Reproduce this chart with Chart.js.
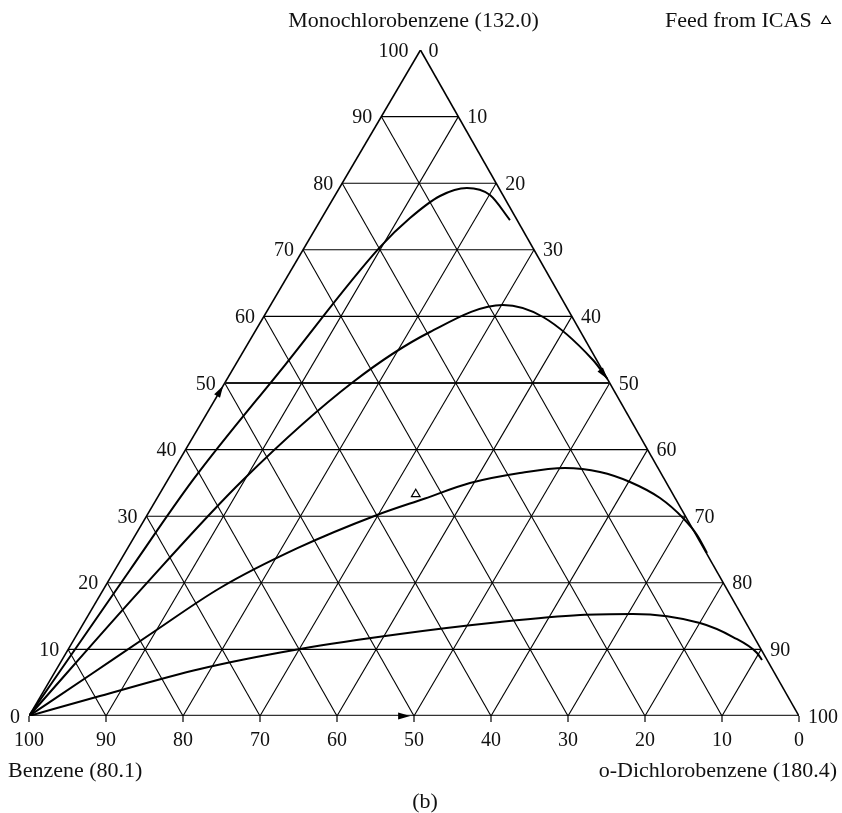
<!DOCTYPE html>
<html><head><meta charset="utf-8">
<script src="https://cdn.jsdelivr.net/npm/chart.js@4.4.0/dist/chart.umd.min.js"></script>
<style>html,body{margin:0;padding:0;background:#fff;} #wrap{width:842px;height:813px;position:relative;}</style>
</head><body><div id="wrap"><canvas id="c" width="842" height="813"></canvas></div>
<script>
// ---- tick labels (percent) ----
const tickValues = [0,10,20,30,40,50,60,70,80,90,100];
const gridFractions = [0.1,0.2,0.3,0.4,0.5,0.6,0.7,0.8,0.9];
// horizontal position of the Monochlorobenzene apex, in units of the base width
const apexX = 0.5084;

// ---- residue curves: mole fractions of MCB (m) and o-DCB (d) along each curve ----
const curve1Mcb = [0, 0.2192, 0.3544, 0.527,  0.704,  0.7477, 0.7808, 0.7928, 0.7823, 0.7447];
const curve1Dcb = [0, 0.0197, 0.0328, 0.0645, 0.0979, 0.1147, 0.1368, 0.1657, 0.2009, 0.2460];

const curve2Mcb = [0, 0.1883, 0.3544, 0.5015, 0.5766, 0.6171, 0.5991, 0.5345, 0.506];
const curve2Dcb = [0, 0.0484, 0.0977, 0.1659, 0.2276, 0.3018, 0.3630, 0.4607, 0.494];

const curve3Mcb = [0, 0.0616, 0.1242, 0.1922, 0.2523, 0.3018, 0.3266, 0.3498, 0.3649, 0.3724, 0.3664, 0.3514, 0.3273, 0.2973, 0.2718, 0.2447];
const curve3Dcb = [0, 0.0479, 0.0962, 0.1504, 0.2210, 0.2985, 0.3482, 0.3948, 0.4521, 0.5068, 0.5553, 0.6019, 0.6531, 0.6982, 0.7294, 0.7561];

const curve4Mcb = [0, 0.0300, 0.0706, 0.1006, 0.1231, 0.1411, 0.1517, 0.1532, 0.1396, 0.1186, 0.0946, 0.0841];
const curve4Dcb = [0, 0.0769, 0.1862, 0.3008, 0.4192, 0.5399, 0.6385, 0.7065, 0.8004, 0.8540, 0.8974, 0.9092];

const feedMcb = [0.333];
const feedDcb = [0.333];

// arrows: [mcb, dcb] of tip, [mcb, dcb] of a point behind it
const arrowTips  = [[0.496, 0.0], [0.0, 0.495], [0.506, 0.494]];
const arrowTails = [[0.44, 0.0],  [0.0, 0.44],  [0.53, 0.466]];

const labelTop = 'Monochlorobenzene (132.0)';
const labelLeft = 'Benzene (80.1)';
const labelRight = 'o-Dichlorobenzene (180.4)';
const labelFeed = 'Feed from ICAS';
const labelPanel = '(b)';

function toXY(m, d) { return { x: d + m * apexX, y: m }; }
function curve(ms, ds) { return ms.map((m, i) => toXY(m, ds[i])); }

const datasets = [];
function seg(p1, p2, w, col) {
  datasets.push({ data: [p1, p2], showLine: true, borderColor: col || '#000', borderWidth: w, pointRadius: 0, tension: 0, order: 5 });
}
gridFractions.forEach(f => {
  const mid = Math.abs(f - 0.5) < 1e-9;
  seg(toXY(f, 0), toXY(f, 1 - f), mid ? 2 : 1.1, mid ? '#1a1a1a' : '#000'); // constant MCB
  seg(toXY(0, f), toXY(1 - f, f), 1.1);                                      // constant DCB
  seg(toXY(0, 1 - f), toXY(1 - f, 0), 1.1);                                  // constant Benzene
});
// triangle edges
seg(toXY(0, 0), toXY(1, 0), 1.6);        // Benzene - MCB
seg(toXY(1, 0), toXY(0, 1), 1.6);        // MCB - DCB
seg(toXY(0, 0), toXY(0, 1), 2.6, '#333'); // Benzene - DCB (base)

[[curve1Mcb, curve1Dcb], [curve2Mcb, curve2Dcb], [curve3Mcb, curve3Dcb], [curve4Mcb, curve4Dcb]].forEach(c => {
  datasets.push({ data: curve(c[0], c[1]), showLine: true, borderColor: '#000', borderWidth: 2, pointRadius: 0,
    cubicInterpolationMode: 'monotone', order: 1 });
});
datasets.push({ data: curve(feedMcb, feedDcb), showLine: false, pointStyle: 'triangle', pointRadius: 5,
  backgroundColor: 'rgba(0,0,0,0)', borderColor: '#000', borderWidth: 1.2, order: 0 });

const decor = {
  id: 'decor',
  afterDatasetsDraw(chart) {
    const ctx = chart.ctx, xs = chart.scales.x, ys = chart.scales.y;
    const P = (m, d) => { const q = toXY(m, d); return [xs.getPixelForValue(q.x), ys.getPixelForValue(q.y)]; };
    ctx.save();
    // arrow heads
    arrowTips.forEach((t, i) => {
      const a = P(t[0], t[1]), b = P(arrowTails[i][0], arrowTails[i][1]);
      let ux = a[0] - b[0], uy = a[1] - b[1]; const L = Math.hypot(ux, uy); ux /= L; uy /= L;
      const len = 12, w = 3.4;
      ctx.beginPath();
      ctx.moveTo(a[0], a[1]);
      ctx.lineTo(a[0] - len * ux - w * uy, a[1] - len * uy + w * ux);
      ctx.lineTo(a[0] - len * ux + w * uy, a[1] - len * uy - w * ux);
      ctx.closePath(); ctx.fillStyle = '#000'; ctx.fill();
    });
    // bottom tick marks
    ctx.strokeStyle = '#333'; ctx.lineWidth = 1.5;
    tickValues.forEach(v => {
      const p = P(0, v / 100);
      ctx.beginPath(); ctx.moveTo(p[0], p[1]); ctx.lineTo(p[0], p[1] + 6); ctx.stroke();
    });
    // tick labels
    ctx.fillStyle = '#111';
    ctx.font = '20px "Liberation Serif", "DejaVu Serif", serif';
    ctx.textBaseline = 'alphabetic';
    tickValues.forEach(v => {
      const f = v / 100;
      const pb = P(0, f);
      ctx.textAlign = 'center'; ctx.fillText(String(100 - v), pb[0], pb[1] + 30);
      const pl = P(f, 0);
      ctx.textAlign = 'right'; ctx.fillText(String(v), pl[0] - (v === 100 ? 12 : 9), pl[1] + 6.5);
      const pr = P(1 - f, f);
      ctx.textAlign = 'left'; ctx.fillText(String(v), pr[0] + (v === 0 ? 8 : 9), pr[1] + 6.5);
    });
    // titles
    ctx.font = '22px "Liberation Serif", "DejaVu Serif", serif';
    const top = P(1, 0), bl = P(0, 0), br = P(0, 1);
    ctx.textAlign = 'center'; ctx.fillText(labelTop, top[0] - 7, top[1] - 23);
    ctx.textAlign = 'left'; ctx.fillText(labelLeft, bl[0] - 21, bl[1] + 61);
    ctx.textAlign = 'right'; ctx.fillText(labelRight, br[0] + 38, br[1] + 61);
    ctx.textAlign = 'center'; ctx.fillText(labelPanel, (bl[0] + br[0]) / 2 + 11, bl[1] + 92);
    ctx.textAlign = 'left'; ctx.fillText(labelFeed, 665, 26.5);
    // legend marker (hollow triangle)
    ctx.strokeStyle = '#000'; ctx.fillStyle = 'rgba(255,255,255,0)'; ctx.lineWidth = 1.2;
    Chart.helpers.drawPoint(ctx, { pointStyle: 'triangle', radius: 5, borderWidth: 1.2 }, 826, 21);
    ctx.restore();
  }
};

new Chart(document.getElementById('c'), {
  type: 'scatter',
  data: { datasets },
  options: {
    responsive: false, animation: false, devicePixelRatio: 1,
    layout: { padding: { left: 29, right: 43, top: 50, bottom: 97 } },
    plugins: { legend: { display: false }, tooltip: { enabled: false } },
    scales: {
      x: { type: 'linear', min: 0, max: 1, display: false },
      y: { type: 'linear', min: 0, max: 1, display: false }
    },
    elements: { line: { borderCapStyle: 'butt' } }
  },
  plugins: [decor]
});
</script>
</body></html>
